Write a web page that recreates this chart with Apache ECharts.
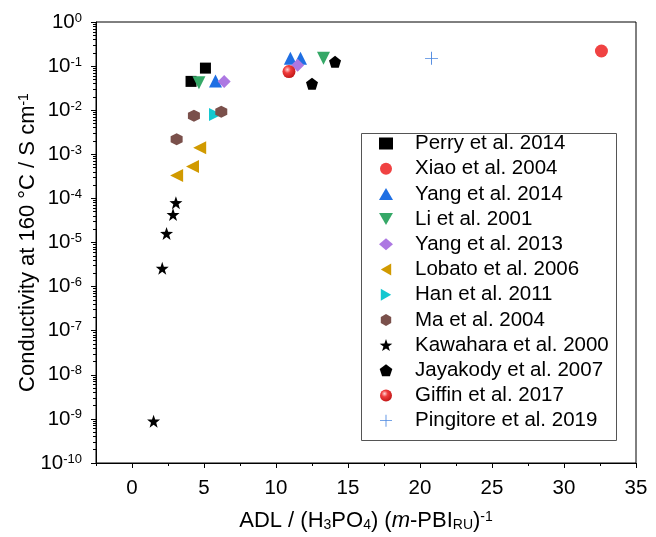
<!DOCTYPE html>
<html><head><meta charset="utf-8">
<script src="https://cdn.jsdelivr.net/npm/echarts@6/dist/echarts.min.js"></script>
<style>html,body{margin:0;padding:0;background:#fff}#c{width:656px;height:537px}</style>
</head><body><div id="c"></div>
<script>
// ---- data (x = ADL, y = conductivity S/cm) ----
const perryX = [4.1, 5.1],            perryY = [0.045, 0.09];
const xiaoX = [32.6],                 xiaoY = [0.22];
const yang14X = [5.8, 11.0, 11.7],    yang14Y = [0.046, 0.15, 0.15];
const li01X = [4.65, 13.3],           li01Y = [0.042, 0.15];
const yang13X = [6.4, 11.5],          yang13Y = [0.045, 0.105];
const lobatoX = [3.1, 4.2, 4.7],      lobatoY = [0.00033, 0.00053, 0.0014];
const hanX = [5.8],                   hanY = [0.008];
const maX = [3.1, 4.3, 6.2],          maY = [0.0022, 0.0075, 0.0092];
const kawaharaX = [1.5, 2.1, 2.4, 2.85, 3.05], kawaharaY = [8.9e-10, 2.6e-6, 1.6e-5, 4.3e-5, 8e-5];
const jayakodyX = [12.5, 14.1],       jayakodyY = [0.04, 0.125];
const giffinX = [10.9],               giffinY = [0.075];
const pingitoreX = [20.8],            pingitoreY = [0.15];

const seriesNames = ['Perry et al. 2014','Xiao et al. 2004','Yang et al. 2014','Li et al. 2001','Yang et al. 2013','Lobato et al. 2006','Han et al. 2011','Ma et al. 2004','Kawahara et al. 2000','Jayakody et al. 2007','Giffin et al. 2017','Pingitore et al. 2019'];

const xMajorTicks = [0, 5, 10, 15, 20, 25, 30, 35];
const xMinorTicks = [-2.5, 2.5, 7.5, 12.5, 17.5, 22.5, 27.5, 32.5];
const yDecadeExps = [-10, -9, -8, -7, -6, -5, -4, -3, -2, -1, 0];

// ---- helpers ----
const zip = (xs, ys) => xs.map((x, i) => [x, ys[i]]);
const FONT = "'Liberation Sans', Arial, sans-serif";
const yMinorTicks = [];
yDecadeExps.slice(0, -1).forEach(e => { for (let k = 2; k <= 9; k++) yMinorTicks.push(e + Math.log10(k)); });

const SYM = {
  down: 'path://M-10,-8.66 L10,-8.66 0,8.66Z',
  left: 'path://M8.66,-10 L8.66,10 -8.66,0Z',
  right: 'path://M-8.66,-10 L-8.66,10 8.66,0Z',
  hex: 'path://M0,-10 L8.66,-5 8.66,5 0,10 -8.66,5 -8.66,-5Z',
  star: 'path://M0,-10 L2.35,-3.24 9.51,-3.09 3.8,1.24 5.88,8.09 0,4 -5.88,8.09 -3.8,1.24 -9.51,-3.09 -2.35,-3.24Z',
  pent: 'path://M0,-10 L9.51,-3.09 5.88,8.09 -5.88,8.09 -9.51,-3.09Z',
  plus: 'path://M-0.7,-10 L0.7,-10 0.7,-0.7 10,-0.7 10,0.7 0.7,0.7 0.7,10 -0.7,10 -0.7,0.7 -10,0.7 -10,-0.7 -0.7,-0.7Z'
};
const sphere = {type:'radial', x:0.38, y:0.35, r:0.75, colorStops:[{offset:0,color:'#ffd6d6'},{offset:0.35,color:'#f03c3c'},{offset:1,color:'#b81010'}]};

function sc(name, xs, ys, symbol, size, color) {
  return {type:'scatter', name, data: zip(xs, ys), symbol, symbolSize: size,
    itemStyle:{color, opacity:1}, xAxisIndex:0, yAxisIndex:0, z:3, emphasis:{disabled:true}};
}

const series = [
  sc(seriesNames[0], perryX, perryY, 'rect', 11, '#000000'),
  sc(seriesNames[1], xiaoX, xiaoY, 'circle', 13, '#f04242'),
  sc(seriesNames[2], yang14X, yang14Y, 'triangle', 13, '#1f6fe3'),
  sc(seriesNames[3], li01X, li01Y, SYM.down, 13, '#35a867'),
  sc(seriesNames[4], yang13X, yang13Y, 'diamond', 13, '#ad78e2'),
  sc(seriesNames[5], lobatoX, lobatoY, SYM.left, 13, '#d19a00'),
  sc(seriesNames[6], hanX, hanY, SYM.right, 13, '#14c8d0'),
  sc(seriesNames[7], maX, maY, SYM.hex, 12, '#7a504b'),
  sc(seriesNames[8], kawaharaX, kawaharaY, SYM.star, 13, '#000000'),
  sc(seriesNames[9], jayakodyX, jayakodyY, SYM.pent, 12, '#000000'),
  sc(seriesNames[10], giffinX, giffinY, 'circle', 13, sphere),
  sc(seriesNames[11], pingitoreX, pingitoreY, SYM.plus, 13, '#4a86e0')
];

const supStyle = {fontSize: 13, fontFamily: FONT, color:'#000', verticalAlign:'top', lineHeight: 20};
const supTitle = {fontSize: 14, fontFamily: FONT, color:'#000', verticalAlign:'top', lineHeight: 22};

const chart = echarts.init(document.getElementById('c'), null, {renderer:'canvas'});
chart.setOption({
  backgroundColor:'#fff',
  animation:false,
  textStyle:{fontFamily: FONT},
  grid:{left:96, right:20, top:22, bottom:73, show:true, borderColor:'#000', borderWidth:1, backgroundColor:'transparent'},
  xAxis:[{
    type:'value', min:-2.5, max:35,
    axisLine:{show:true, onZero:false, lineStyle:{color:'#000', width:1}},
    axisTick:{show:true, inside:false, length:5, lineStyle:{color:'#000'}, customValues: xMajorTicks},
    axisLabel:{show:true, fontSize:20.5, color:'#000', fontFamily:FONT, margin:15, customValues: xMajorTicks},
    splitLine:{show:false},
    name:'ADL / (H{sub|3}PO{sub|4}) ({it|m}-PBI{sub|RU}){sup|-1}',
    nameLocation:'middle', nameGap:47, nameMoveOverlap:false,
    nameTextStyle:{fontSize:22, color:'#000', fontFamily:FONT, rich:{
      sub:{fontSize:14, fontFamily:FONT, color:'#000', verticalAlign:'bottom', lineHeight:22},
      sup:supTitle,
      it:{fontSize:22, fontStyle:'italic', fontFamily:FONT, color:'#000'}
    }}
  },{
    type:'value', min:-2.5, max:35, position:'bottom',
    axisLine:{show:false, onZero:false},
    axisTick:{show:true, inside:false, length:3, lineStyle:{color:'#000'}, customValues: xMinorTicks},
    axisLabel:{show:false}, splitLine:{show:false}
  }],
  yAxis:[{
    type:'log', logBase:10, min:1e-10, max:1, interval:1, splitNumber:10,
    axisLine:{show:true, onZero:false, lineStyle:{color:'#000', width:1}},
    axisTick:{show:true, inside:false, length:5, lineStyle:{color:'#000'}},
    minorTick:{show:false},
    axisLabel:{show:true, margin:14, hideOverlap:false, formatter: v => '{b|10}{s|' + Math.round(Math.log10(v)) + '}',
      rich:{b:{fontSize:20.5, fontFamily:FONT, color:'#000'}, s:supStyle}},
    splitLine:{show:false},
    name:'Conductivity at 160 °C / S cm{sup|-1}',
    nameLocation:'middle', nameGap:57, nameMoveOverlap:false,
    nameTextStyle:{fontSize:22, color:'#000', fontFamily:FONT, rich:{sup:supTitle}}
  },{
    type:'value', min:-10, max:0, position:'left',
    axisLine:{show:false, onZero:false},
    axisTick:{show:true, inside:false, length:3, lineStyle:{color:'#000'}, customValues: yMinorTicks},
    axisLabel:{show:false}, splitLine:{show:false}
  }],
  legend:{
    show:true, orient:'vertical', left:379, top:133, padding:0,
    itemWidth:14, itemHeight:12, itemGap:4.2, selectedMode:false,
    data: seriesNames,
    textStyle:{fontSize:20.5, color:'#000', fontFamily:FONT, padding:[0,0,0,17]}
  },
  graphic:[{type:'rect', left:359, top:131, shape:{width:255, height:307}, style:{fill:'none', stroke:'#555', lineWidth:1}, z:10}],
  series
});
</script></body></html>
